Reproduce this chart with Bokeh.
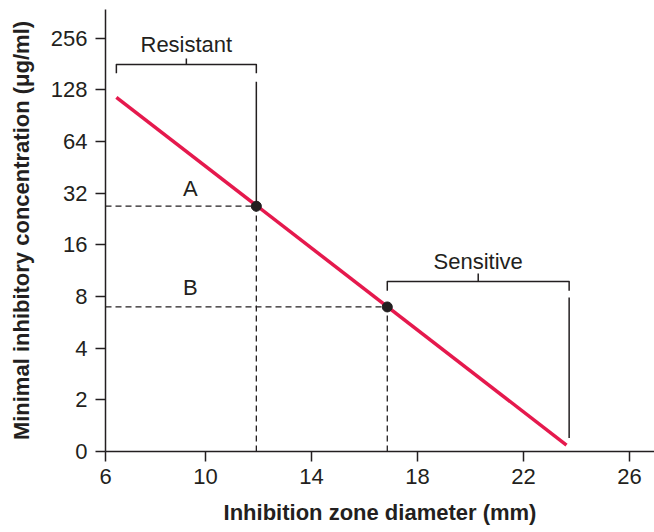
from bokeh.plotting import figure
from bokeh.models import Range1d, FixedTicker
from bokeh.models import Label
from bokeh.embed import file_html
from bokeh.resources import INLINE

# ---- data ----
zone_line = [6.64, 23.62]          # inhibition zone diameter (mm), regression line ends
mic_line = [116.0, 1.09]           # MIC (ug/ml)
point_labels = ["A", "B"]
point_zone = [11.92, 16.86]
point_mic = [26.9, 6.96]
resistant_zone = [6.64, 11.92]
sensitive_zone = [16.86, 23.72]
y_ticks = [1, 2, 4, 8, 16, 32, 64, 128, 256]
y_tick_labels = ["0", "2", "4", "8", "16", "32", "64", "128", "256"]
x_start_label = "6"
x_ticks = [10, 14, 18, 22, 26]

# ---- styles ----
INK = "#231f20"
RED = "#e5194d"
FONT = "Liberation Sans"
X_START, X_END = 6.23, 26.94
Y_START, Y_END = 1, 377

p = figure(width=654, height=532, y_axis_type="log",
           x_range=Range1d(X_START, X_END), y_range=Range1d(Y_START, Y_END),
           output_backend="svg", toolbar_location=None,
           min_border_left=105, min_border_top=9, min_border_right=0, min_border_bottom=81)
p.outline_line_color = None
p.grid.visible = False
p.background_fill_color = "white"
p.border_fill_color = "white"

for ax in (p.xaxis[0], p.yaxis[0]):
    ax.axis_line_color = INK
    ax.axis_line_width = 1.5
    ax.major_tick_line_color = INK
    ax.major_tick_line_width = 1.5
    ax.major_tick_out = 10
    ax.major_tick_in = 0
    ax.minor_tick_line_color = None
    ax.major_label_text_font = FONT
    ax.major_label_text_font_size = "22px"
    ax.major_label_text_color = INK
    ax.axis_label_text_font = FONT
    ax.axis_label_text_font_size = "22px"
    ax.axis_label_text_font_style = "bold"
    ax.axis_label_text_color = INK

p.yaxis.ticker = FixedTicker(ticks=y_ticks)
p.yaxis.major_label_overrides = {t: l for t, l in zip(y_ticks, y_tick_labels)}
p.yaxis.major_label_standoff = 8
p.yaxis.axis_label = "Minimal inhibitory concentration (\u03bcg/ml)"
p.yaxis.axis_label_standoff = 14

xt = [X_START] + x_ticks
p.xaxis.ticker = FixedTicker(ticks=xt)
p.xaxis.major_label_overrides = {X_START: x_start_label}
p.xaxis.major_label_standoff = 7
p.xaxis.axis_label = "Inhibition zone diameter (mm)"
p.xaxis.axis_label_standoff = 13

# dashed guide lines
dash = dict(line_color=INK, line_width=1.3, line_dash="6 4")
for zx, my in zip(point_zone, point_mic):
    p.line([X_START, zx], [my, my], **dash)
    p.line([zx, zx], [Y_START, my], **dash)

# solid vertical lines at range ends
p.line([resistant_zone[1], resistant_zone[1]], [143, point_mic[0]], line_color=INK, line_width=1.5)
p.line([sensitive_zone[1], sensitive_zone[1]], [7.9, 1.2], line_color=INK, line_width=1.5)

# brackets
def bracket(x0, x1, y_low, y_top, y_tick):
    xm = (x0 + x1) / 2
    p.multi_line([[x0, x0, x1, x1], [xm, xm]], [[y_low, y_top, y_top, y_low], [y_top, y_tick]],
                 line_color=INK, line_width=1.5, line_join="round")
    return xm

xm_r = bracket(resistant_zone[0], resistant_zone[1], 160, 180, 195)
xm_s = bracket(sensitive_zone[0], sensitive_zone[1], 8.64, 9.8, 10.9)

txt = dict(text_font=FONT, text_font_size="22px", text_color=INK,
           text_align="center", text_baseline="middle")
p.add_layout(Label(x=xm_r, y=235, text="Resistant", **txt))
p.add_layout(Label(x=xm_s, y=12.8, text="Sensitive", **txt))
p.add_layout(Label(x=9.43, y=33.9, text=point_labels[0], **txt))
p.add_layout(Label(x=9.43, y=9.06, text=point_labels[1], **txt))

# regression line and points
p.line(zone_line, mic_line, line_color=RED, line_width=3.5)
p.scatter(point_zone, point_mic, size=10, color=INK)

open("out.html", "w").write(file_html(p, INLINE))
